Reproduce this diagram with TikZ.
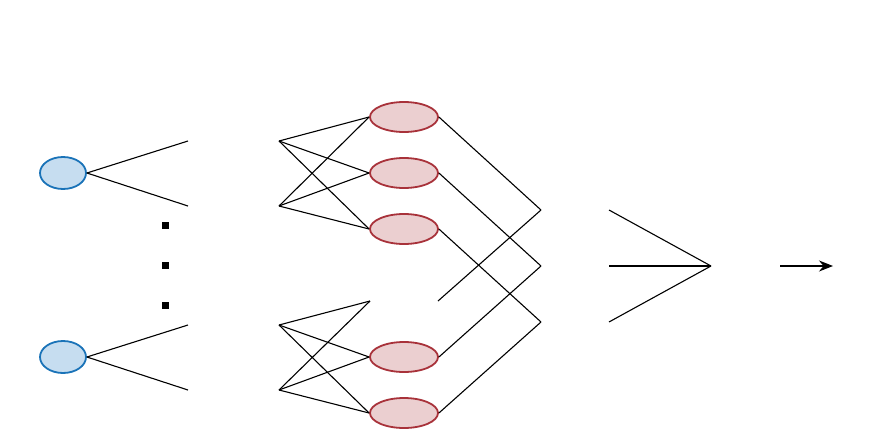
\documentclass[tikz,border=0pt]{standalone}
\usetikzlibrary{arrows.meta, positioning, shapes.geometric}
\definecolor{inborder}{HTML}{1A73B8}
\definecolor{infill}{HTML}{C6DDF0}
\definecolor{hidborder}{HTML}{A8323A}
\definecolor{hidfill}{HTML}{EBCFD0}

\begin{document}
\begin{tikzpicture}[
    x=1pt, y=-1pt,
    inunit/.style={draw=inborder, ellipse, fill=infill, line width=1.8pt,
                   minimum width=46pt, minimum height=32pt, inner sep=0pt},
    hidunit/.style={draw=hidborder, ellipse, fill=hidfill, line width=1.8pt,
                    minimum width=68pt, minimum height=30pt, inner sep=0pt},
    link/.style={line width=1.1pt, black},
    arrow/.style={-{Stealth[length=14pt, width=11pt]}, line width=1.1pt},
]
    \useasboundingbox (0,0) rectangle (871,437);

    % input units
    \node[inunit] (in1) at (63,173) {};
    \node[inunit] (in2) at (63,357) {};
    \foreach \y [count=\i] in {225,265,305}
        \node[fill=black, minimum size=7pt, inner sep=0pt] (dot\i) at (165,\y) {};

    % hidden units
    \foreach \y/\n in {117/h1, 173/h2, 229/h3, 357/h5, 413/h6}
        \node[hidunit] (\n) at (404,\y) {};
    \coordinate (h4w) at (370,301);
    \coordinate (h4e) at (438,301);

    % free ends
    \coordinate (a1) at (188,141); \coordinate (a2) at (188,206);
    \coordinate (a3) at (188,325); \coordinate (a4) at (188,390);
    \coordinate (b1) at (279,141); \coordinate (b2) at (279,206);
    \coordinate (b3) at (279,325); \coordinate (b4) at (279,390);
    \coordinate (c1) at (541,210); \coordinate (c2) at (541,266);
    \coordinate (c3) at (541,322);
    \coordinate (d1) at (609,210); \coordinate (d2) at (609,266);
    \coordinate (d3) at (609,322);
    \coordinate (out) at (711,266);
    \coordinate (ar1) at (780,266); \coordinate (ar2) at (833,266);

    \draw[link] (in1.east) -- (a1);
    \draw[link] (in1.east) -- (a2);
    \draw[link] (in2.east) -- (a3);
    \draw[link] (in2.east) -- (a4);

    \foreach \s in {b1,b2}
        \foreach \t in {h1,h2,h3}
            \draw[link] (\s) -- (\t.west);
    \foreach \s in {b3,b4} {
        \draw[link] (\s) -- (h4w);
        \foreach \t in {h5,h6}
            \draw[link] (\s) -- (\t.west);
    }

    \draw[link] (h1.east) -- (c1);
    \draw[link] (h2.east) -- (c2);
    \draw[link] (h3.east) -- (c3);
    \draw[link] (h4e) -- (c1);
    \draw[link] (h5.east) -- (c2);
    \draw[link] (h6.east) -- (c3);

    \foreach \s in {d1,d2,d3}
        \draw[link] (\s) -- (out);

    \draw[arrow] (ar1) -- (ar2);
\end{tikzpicture}
\end{document}
